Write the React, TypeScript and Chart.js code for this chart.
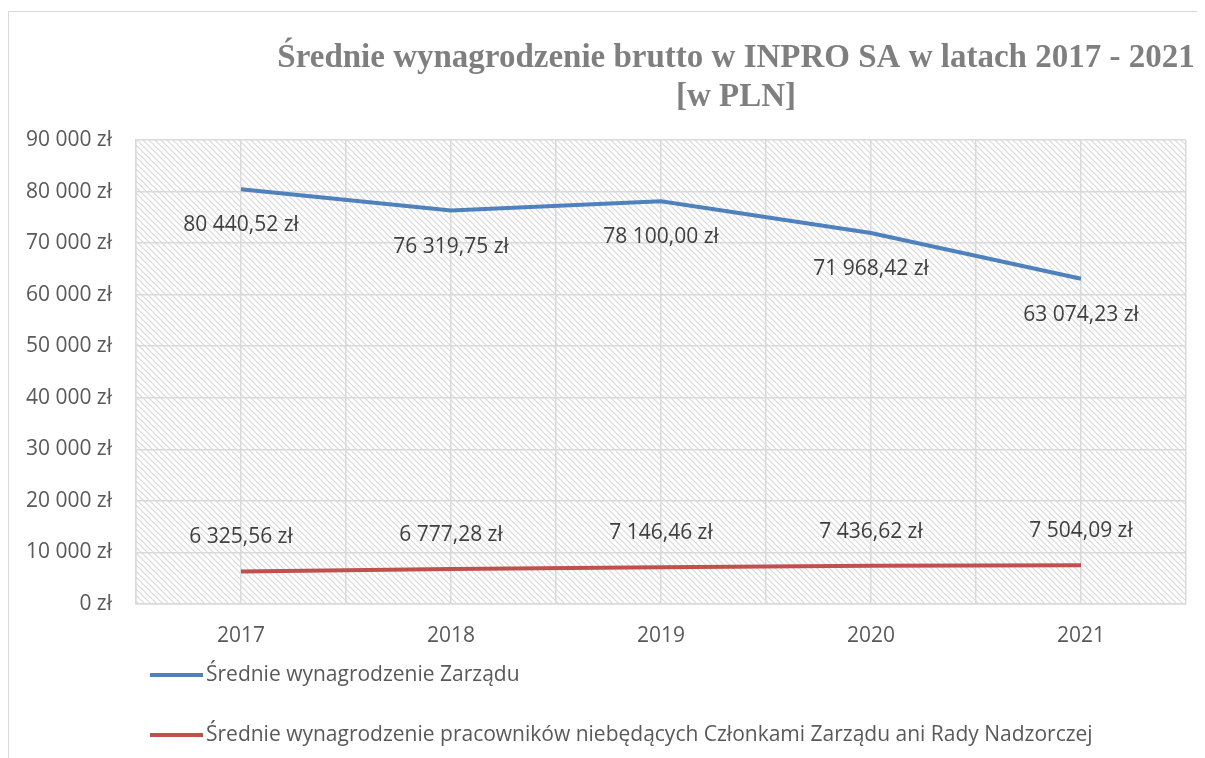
import React, { useEffect, useRef } from "react";
import { Chart, registerables } from "chart.js";

Chart.register(...registerables);

const categories = ["2017", "2018", "2019", "2020", "2021"];
const boardValues = [80440.52, 76319.75, 78100.0, 71968.42, 63074.23];
const staffValues = [6325.56, 6777.28, 7146.46, 7436.62, 7504.09];
const seriesLabels = [
  "Średnie wynagrodzenie Zarządu",
  "Średnie wynagrodzenie pracowników niebędących Członkami Zarządu ani Rady Nadzorczej",
];
const titleLines = ["Średnie wynagrodzenie brutto w INPRO SA w latach 2017 - 2021", "[w PLN]"];
const yTicks = [0, 10000, 20000, 30000, 40000, 50000, 60000, 70000, 80000, 90000];

const FONT = "'Open Sans', 'Noto Sans', sans-serif";

function groupThousands(s: string) {
  return s.replace(/\B(?=(\d{3})+(?!\d))/g, " ");
}
function formatMoney(v: number) {
  const [i, d] = v.toFixed(2).split(".");
  return groupThousands(i) + "," + d + " zł";
}
function formatTick(v: number) {
  return groupThousands(String(Math.round(v))) + " zł";
}

export default function App() {
  const ref = useRef<HTMLCanvasElement | null>(null);
  useEffect(() => {
    const canvas = ref.current!;
    const tile = document.createElement("canvas");
    tile.width = 6;
    tile.height = 6;
    const tctx = tile.getContext("2d")!;
    tctx.fillStyle = "#ffffff";
    tctx.fillRect(0, 0, 6, 6);
    tctx.strokeStyle = "#d9d9d9";
    tctx.lineWidth = 1.2;
    tctx.beginPath();
    tctx.moveTo(-1, -1);
    tctx.lineTo(7, 7);
    tctx.moveTo(-1, 5);
    tctx.lineTo(1, 7);
    tctx.moveTo(5, -1);
    tctx.lineTo(7, 1);
    tctx.stroke();

    const hatchPlugin = {
      id: "hatch",
      beforeDraw(chart: any) {
        const { ctx, chartArea } = chart;
        const pat = ctx.createPattern(tile, "repeat");
        ctx.save();
        ctx.fillStyle = pat;
        ctx.fillRect(chartArea.left, chartArea.top, chartArea.right - chartArea.left, chartArea.bottom - chartArea.top);
        ctx.restore();
      },
    };

    const decorPlugin = {
      id: "decor",
      afterDatasetsDraw(chart: any) {
        const { ctx } = chart;
        ctx.save();
        ctx.fillStyle = "#7f7f7f";
        ctx.font = "bold 33px 'Liberation Serif', serif";
        ctx.textAlign = "center";
        ctx.textBaseline = "middle";
        ctx.fillText(titleLines[0], 727, 46);
        ctx.fillText(titleLines[1], 727, 85);
        ctx.font = "21px " + FONT;
        ctx.fillStyle = "#404040";
        chart.data.datasets.forEach((ds: any, di: number) => {
          const meta = chart.getDatasetMeta(di);
          const off = di === 0 ? 36 : -34;
          meta.data.forEach((pt: any, i: number) => {
            ctx.fillText(formatMoney(ds.data[i].y), pt.x, pt.y + off);
          });
        });
        ctx.textAlign = "left";
        ctx.fillStyle = "#595959";
        const ys = [663, 723];
        chart.data.datasets.forEach((ds: any, di: number) => {
          ctx.strokeStyle = ds.borderColor;
          ctx.lineWidth = 4;
          ctx.beginPath();
          ctx.moveTo(141, ys[di]);
          ctx.lineTo(194, ys[di]);
          ctx.stroke();
          ctx.fillText(ds.label, 197, ys[di]);
        });
        ctx.restore();
      },
    };

    const chart = new Chart(canvas, {
      type: "line",
      data: {
        datasets: [
          {
            label: seriesLabels[0],
            data: boardValues.map((v, i) => ({ x: i, y: v })),
            borderColor: "#4f81bd",
            borderWidth: 4,
            pointRadius: 0,
            tension: 0,
          },
          {
            label: seriesLabels[1],
            data: staffValues.map((v, i) => ({ x: i, y: v })),
            borderColor: "#c0504d",
            borderWidth: 4,
            pointRadius: 0,
            tension: 0,
          },
        ],
      },
      options: {
        responsive: false,
        animation: false,
        events: [],
        layout: { padding: { top: 128, right: 11, bottom: 94, left: 0 } },
        plugins: { legend: { display: false }, title: { display: false }, tooltip: { enabled: false } },
        scales: {
          x: {
            type: "linear",
            min: -0.5,
            max: categories.length - 0.5,
            afterBuildTicks(scale: any) {
              const t: any[] = [];
              for (let i = 0; i <= categories.length * 2; i++) t.push({ value: -0.5 + i * 0.5 });
              scale.ticks = t;
            },
            afterFit(scale: any) {
              scale.height = 60;
            },
            ticks: {
              autoSkip: false,
              maxRotation: 0,
              padding: 19,
              color: "#595959",
              font: { family: FONT, size: 21 },
              callback: (v: any) => {
                const n = Number(v);
                return Number.isInteger(n) ? categories[n] : "";
              },
            },
            grid: { color: "#d9d9d9", lineWidth: 1.5, drawTicks: false },
            border: { color: "#d9d9d9", width: 1.5 },
          },
          y: {
            min: 0,
            max: 90000,
            afterBuildTicks(scale: any) {
              scale.ticks = yTicks.map((v) => ({ value: v }));
            },
            afterFit(scale: any) {
              scale.width = 127;
            },
            ticks: {
              padding: 24,
              color: "#595959",
              font: { family: FONT, size: 21 },
              callback: (v: any) => formatTick(Number(v)),
            },
            grid: { color: "#d9d9d9", lineWidth: 1.5, drawTicks: false },
            border: { color: "#d9d9d9", width: 1.5 },
          },
        },
      },
      plugins: [hatchPlugin, decorPlugin],
    });
    return () => chart.destroy();
  }, []);

  return (
    <div
      style={{
        marginTop: 3,
        width: 1196,
        height: 746,
        borderTop: "1px solid #d9d9d9",
        borderLeft: "1px solid #d9d9d9",
        overflow: "hidden",
      }}
    >
      <canvas ref={ref} width={1196} height={746} style={{ display: "block" }} />
    </div>
  );
}
